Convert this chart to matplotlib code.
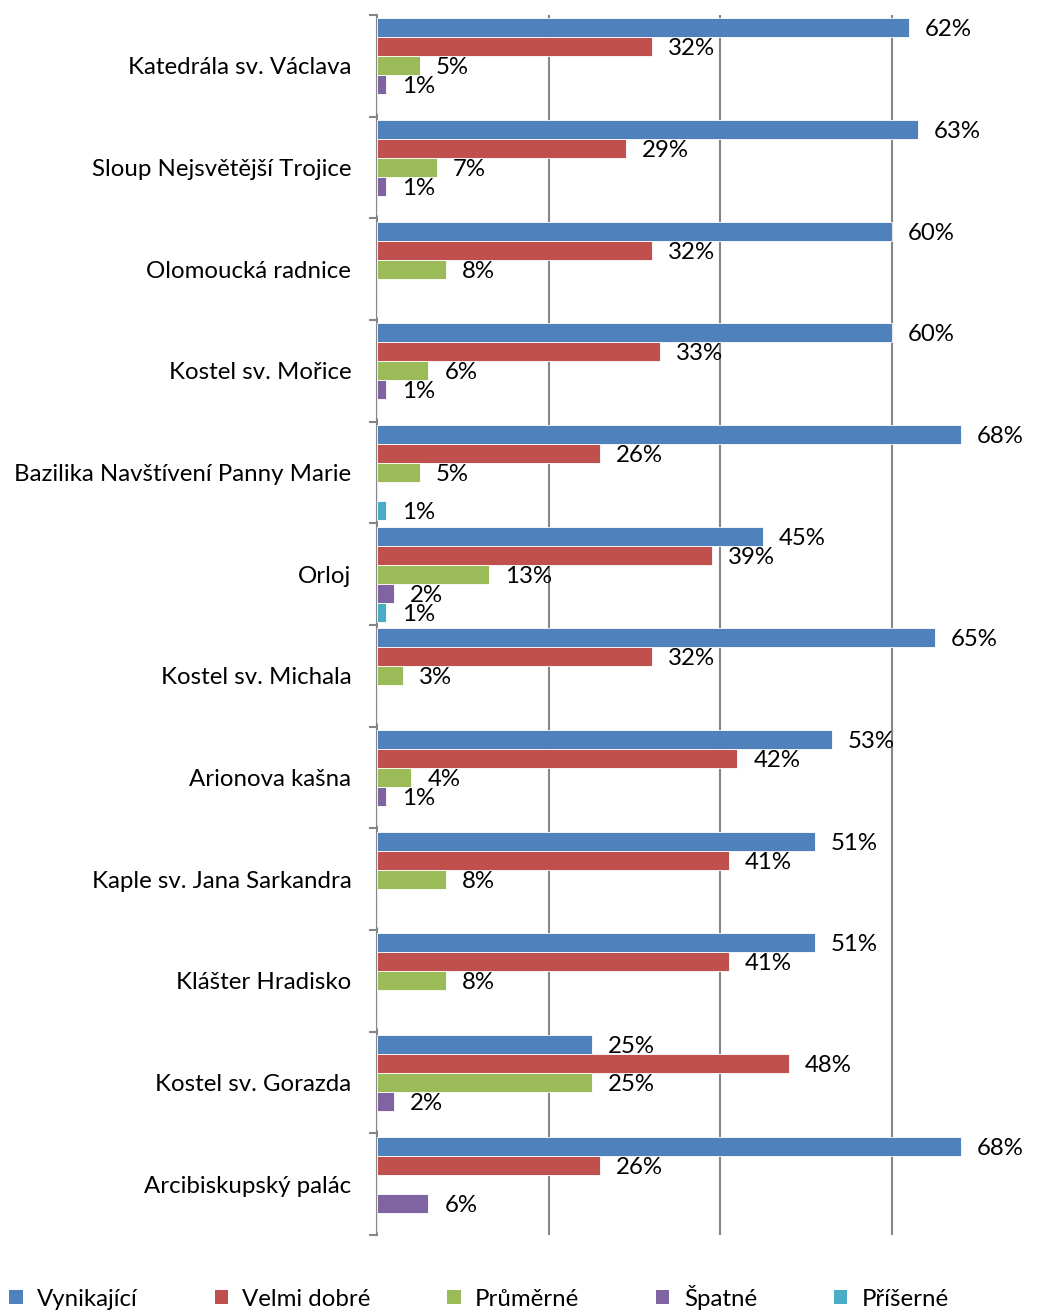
import matplotlib
matplotlib.use("Agg")
import matplotlib.pyplot as plt
from matplotlib.patches import Patch
import numpy as np

categories = ["Katedrála sv. Václava", "Sloup Nejsvětější Trojice", "Olomoucká radnice",
              "Kostel sv. Mořice", "Bazilika Navštívení Panny Marie", "Orloj",
              "Kostel sv. Michala", "Arionova kašna", "Kaple sv. Jana Sarkandra",
              "Klášter Hradisko", "Kostel sv. Gorazda", "Arcibiskupský palác"]
series_names = ["Vynikající", "Velmi dobré", "Průměrné", "Špatné", "Příšerné"]
vynikajici = [62, 63, 60, 60, 68, 45, 65, 53, 51, 51, 25, 68]
velmi_dobre = [32, 29, 32, 33, 26, 39, 32, 42, 41, 41, 48, 26]
prumerne = [5, 7, 8, 6, 5, 13, 3, 4, 8, 8, 25, 0]
spatne = [1, 1, 0, 1, 0, 2, 0, 1, 0, 0, 2, 6]
priserne = [0, 0, 0, 0, 1, 1, 0, 0, 0, 0, 0, 0]
colors = ["#4F81BD", "#C0504D", "#9BBB59", "#8064A2", "#4BACC6"]

plt.rcParams['font.family'] = ['Lato', 'DejaVu Sans']
FS = 17.3

W, H = 1049, 1310
fig = plt.figure(figsize=(W / 100, H / 100), dpi=100)
ax = fig.add_axes([377 / W, 1 - 1235 / H, (1049 - 377) / W, (1235 - 15) / H])

series = [vynikajici, velmi_dobre, prumerne, spatne, priserne]
n = len(categories)
y = np.arange(n)
h = 1 / 5.35
for j, (vals, col) in enumerate(zip(series, colors)):
    vals = np.array(vals) / 100.0
    ypos = y + (j - 2) * h
    ax.barh(ypos, vals, height=h, color=col, edgecolor="white", linewidth=0.6, zorder=3)
    for yy, v in zip(ypos, vals):
        if v > 0:
            ax.annotate(f"{round(v*100)}%", (v, yy), xytext=(16, -2), textcoords="offset pixels",
                        ha="left", va="center", fontsize=FS, color="black", zorder=4)

ax.set_xlim(0, 0.783)
ax.set_ylim(n - 0.5, -0.5)
ax.set_xticks([0.2, 0.4, 0.6])
ax.xaxis.grid(True, color="#868686", linewidth=1.5, zorder=0)
ax.tick_params(axis="x", length=0, labelbottom=False)
ax.set_yticks(y)
ax.set_yticklabels(categories, fontsize=FS)
ax.set_yticks(np.arange(n + 1) - 0.5, minor=True)
ax.tick_params(axis="y", which="major", length=0, pad=18.5)
ax.tick_params(axis="y", which="minor", length=6, width=1.5, color="#868686")
for s in ["top", "right", "bottom"]:
    ax.spines[s].set_visible(False)
ax.spines["left"].set_color("#868686")
ax.spines["left"].set_linewidth(1.5)

handles = [Patch(facecolor=c, edgecolor="none") for c in colors]
fig.legend(handles, series_names, loc="center left", bbox_to_anchor=(0.002, 1 - 1297 / H),
           ncol=5, frameon=False, fontsize=FS, handlelength=0.55, handleheight=0.55,
           handletextpad=0.6, columnspacing=3.2, borderaxespad=0, borderpad=0.3)

fig.savefig("out.png", dpi=100)
